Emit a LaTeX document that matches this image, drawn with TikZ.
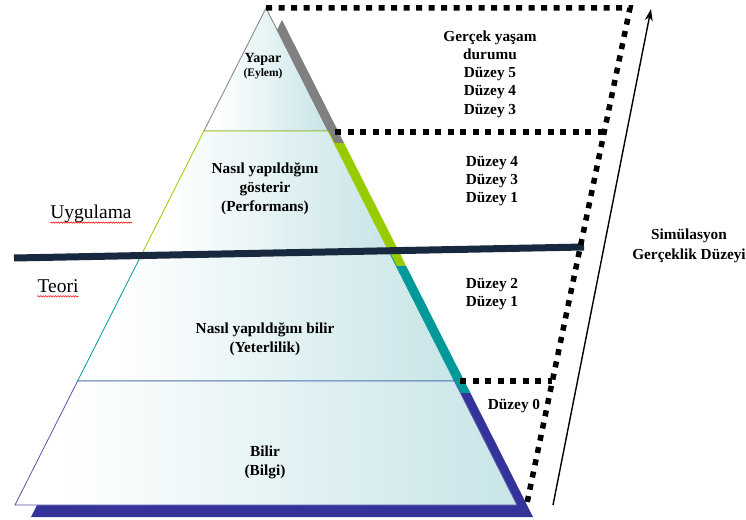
\documentclass[tikz,border=0pt]{standalone}
\usepackage{fontspec}
\setmainfont{Liberation Serif}
\usetikzlibrary{arrows.meta,decorations.pathmorphing}
\definecolor{shgray}{HTML}{808080}
\definecolor{shgreen}{HTML}{99CC00}
\definecolor{shteal}{HTML}{009999}
\definecolor{shblue}{HTML}{333399}
\definecolor{rimblue}{HTML}{5555AA}
\definecolor{navy}{HTML}{17283F}
\definecolor{facetint}{HTML}{C4E3E6}
\pgfdeclarehorizontalshading{facefade}{100bp}{color(0bp)=(white); color(30bp)=(white); color(78bp)=(facetint); color(100bp)=(facetint!70!white)}

\begin{document}
\begin{tikzpicture}[x=1pt,y=-1pt,
  level/.style={shading=facefade, line width=0.8pt},
  lbl/.style={font=\fontsize{15.3}{19}\selectfont\bfseries, align=center, inner sep=0pt},
  side/.style={font=\fontsize{15.3}{18.3}\selectfont\bfseries, align=center, inner sep=0pt},
  theme/.style={font=\fontsize{19.5}{22}\selectfont, inner sep=0pt},
  dots/.style={line width=5.5pt, dash pattern=on 6pt off 6.5pt},
  squig/.style={red, line width=0.5pt, decorate, decoration={snake, amplitude=0.7pt, segment length=2.5pt}}
]
\useasboundingbox (0,0) rectangle (746,519);

% shadow bands
\fill[shgray] (282,20) -- (344.1,143) -- (219.9,143) -- cycle;
\fill[shgreen] (219.9,143) -- (344.1,143) -- (406.2,266) -- (157.8,266) -- cycle;
\fill[shteal] (157.8,266) -- (406.2,266) -- (470.4,393) -- (93.6,393) -- cycle;
\fill[shblue] (93.6,393) -- (470.4,393) -- (533,517) -- (31,517) -- cycle;

% pyramid levels
\draw[level, draw=shgray] (266,8) -- (328.1,131) -- (203.9,131) -- cycle;
\draw[level, draw=shgreen] (203.9,131) -- (328.1,131) -- (389.7,253) -- (142.3,253) -- cycle;
\draw[level, draw=shteal] (142.3,253) -- (389.7,253) -- (454.4,381) -- (77.6,381) -- cycle;
\draw[level, draw=rimblue] (77.6,381) -- (454.4,381) -- (517,505) -- (15,505) -- cycle;

% theory / practice divider
\coordinate (divL) at (14,258);
\coordinate (divR) at (584,247);
\draw[navy, line width=7pt] (divL) -- (divR);

% dotted frame
\coordinate (apex) at (266,8);
\coordinate (frTR) at (630,8);
\coordinate (frBR) at (527,503);
\draw[dots] (apex) -- (frTR) -- (frBR);
\coordinate (cutA) at (335,132);
\coordinate (cutAe) at (604,132);
\coordinate (cutB) at (460,381);
\coordinate (cutBe) at (552,381);
\draw[dots] (cutA) -- (cutAe);
\draw[dots] (cutB) -- (cutBe);

% reality axis
\coordinate (axLo) at (553,505);
\coordinate (axHi) at (651,9);
\draw[-{Stealth[length=12pt,width=8pt]}, line width=1.4pt] (axLo) -- (axHi);

% pyramid texts
\node[font=\fontsize{14}{15}\selectfont\bfseries, inner sep=0pt] (yapar) at (263,59) {Yapar};
\node[font=\fontsize{11.5}{12}\selectfont\bfseries, inner sep=0pt] (eylem) at (263,74) {(Eylem)};
\node[lbl] (perf) at (265,189) {Nasıl yapıldığını\\gösterir\\(Performans)};
\node[lbl] (yet) at (265,339) {Nasıl yapıldığını bilir\\(Yeterlilik)};
\node[lbl] (bilgi) at (265,462) {Bilir\\(Bilgi)};

% levels on the right
\node[side] (lv5) at (490,74) {Gerçek yaşam\\durumu\\Düzey 5\\Düzey 4\\Düzey 3};
\node[side] (lv4) at (492,181) {Düzey 4\\Düzey 3\\Düzey 1};
\node[side] (lv2) at (492,294) {Düzey 2\\Düzey 1};
\node[side] (lv0) at (514,406) {Düzey 0};
\node[side, font=\fontsize{15.3}{20}\selectfont\bfseries] (sim) at (689,246) {Simülasyon\\Gerçeklik Düzeyi};

% side themes
\node[theme] (uyg) at (91,214) {Uygulama};
\node[theme] (teo) at (58,286) {Teori};
\draw[squig] ([yshift=-4pt]uyg.base west) -- ([yshift=-4pt]uyg.base east);
\draw[squig] ([yshift=-4pt]teo.base west) -- ([yshift=-4pt]teo.base east);
\end{tikzpicture}
\end{document}
